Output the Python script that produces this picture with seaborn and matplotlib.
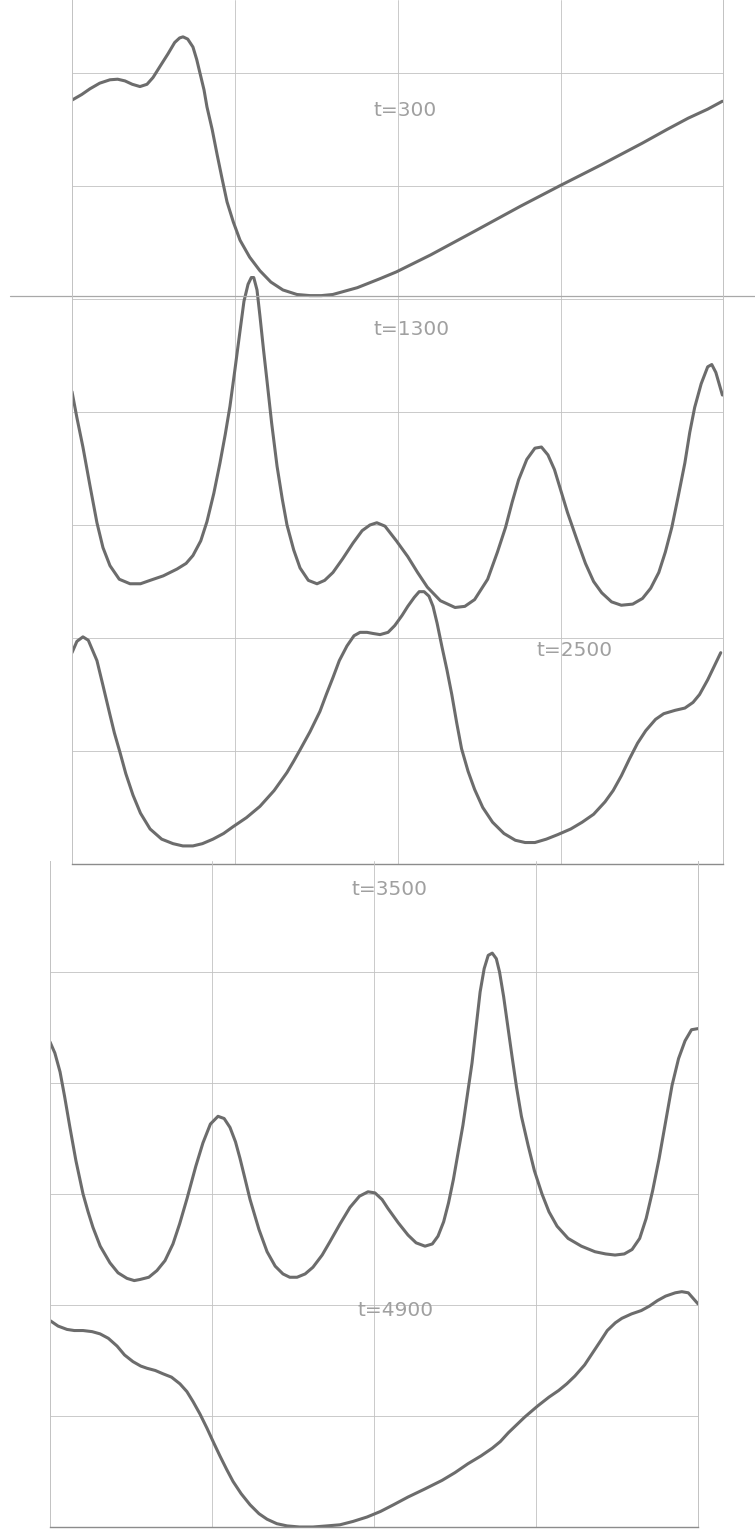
import numpy as np
import matplotlib
matplotlib.use("Agg")
import matplotlib.pyplot as plt
import seaborn as sns

# grid units: x in columns (0..4), y in rows counted from the bottom frame
# upper sheet: t=300, t=1300, t=2500
t300_x = [0.0, 0.06, 0.11, 0.17, 0.233, 0.28, 0.325, 0.37, 0.417, 0.46, 0.497, 0.545, 0.589,
          0.63, 0.66, 0.681, 0.71, 0.742, 0.765, 0.785, 0.81, 0.828, 0.86, 0.890, 0.92, 0.951,
          0.99, 1.031, 1.09, 1.153, 1.22, 1.294, 1.38, 1.46, 1.53, 1.60, 1.75, 1.89, 1.99, 2.2,
          2.47, 2.75, 2.99, 3.25, 3.50, 3.65, 3.78, 3.90, 3.99]
t300_y = [6.76, 6.81, 6.86, 6.91, 6.94, 6.945, 6.93, 6.90, 6.88, 6.90, 6.96, 7.07, 7.17,
          7.27, 7.31, 7.32, 7.30, 7.23, 7.12, 7.0, 6.85, 6.70, 6.50, 6.28, 6.07, 5.86,
          5.68, 5.52, 5.37, 5.25, 5.15, 5.08, 5.04, 5.03, 5.03, 5.04, 5.10, 5.18, 5.24, 5.39,
          5.60, 5.82, 6.0, 6.19, 6.38, 6.50, 6.60, 6.68, 6.75]

t1300_x = [0.0, 0.03, 0.067, 0.11, 0.153, 0.19, 0.233, 0.29, 0.356, 0.42, 0.479, 0.56, 0.644,
           0.70, 0.742, 0.79, 0.828, 0.87, 0.908, 0.94, 0.969, 1.00, 1.031, 1.055, 1.080, 1.10,
           1.115, 1.135, 1.153, 1.175, 1.196, 1.225, 1.258, 1.29, 1.319, 1.36, 1.399, 1.45,
           1.503, 1.55, 1.601, 1.66, 1.724, 1.78, 1.828, 1.87, 1.92, 1.99, 2.06, 2.12, 2.18,
           2.26, 2.35, 2.41, 2.47, 2.55, 2.61, 2.66, 2.70, 2.74, 2.79, 2.84, 2.88, 2.92, 2.96,
           3.00, 3.04, 3.10, 3.15, 3.20, 3.25, 3.31, 3.37, 3.44, 3.50, 3.55, 3.60, 3.64, 3.68,
           3.72, 3.76, 3.79, 3.82, 3.86, 3.90, 3.925, 3.95, 3.99]
t1300_y = [4.18, 3.95, 3.69, 3.35, 3.02, 2.80, 2.64, 2.52, 2.48, 2.48, 2.51, 2.55, 2.61,
           2.66, 2.73, 2.86, 3.03, 3.28, 3.55, 3.80, 4.05, 4.38, 4.72, 4.98, 5.13, 5.19,
           5.19, 5.08, 4.85, 4.55, 4.28, 3.90, 3.52, 3.23, 3.0, 2.78, 2.62, 2.51,
           2.48, 2.51, 2.58, 2.70, 2.84, 2.95, 3.0, 3.02, 2.99, 2.86, 2.72, 2.58, 2.45,
           2.33, 2.27, 2.28, 2.34, 2.52, 2.76, 2.98, 3.20, 3.40, 3.58, 3.68, 3.69, 3.62, 3.49,
           3.30, 3.11, 2.86, 2.66, 2.50, 2.40, 2.32, 2.29, 2.30, 2.35, 2.44, 2.58, 2.76, 2.98,
           3.26, 3.55, 3.82, 4.04, 4.25, 4.40, 4.42, 4.35, 4.15]

t2500_x = [0.0, 0.03, 0.067, 0.10, 0.153, 0.19, 0.233, 0.26, 0.294, 0.33, 0.374, 0.42, 0.479,
           0.55, 0.620, 0.68, 0.742, 0.80, 0.865, 0.93, 0.988, 1.07, 1.153, 1.24, 1.319, 1.36,
           1.399, 1.46, 1.521, 1.56, 1.601, 1.64, 1.687, 1.73, 1.767, 1.81, 1.847, 1.89, 1.939,
           1.98, 2.025, 2.06, 2.10, 2.13, 2.16, 2.19, 2.215, 2.24, 2.27, 2.30, 2.33, 2.36, 2.39,
           2.43, 2.47, 2.52, 2.58, 2.65, 2.72, 2.78, 2.84, 2.91, 2.98, 3.06, 3.13, 3.20, 3.27,
           3.32, 3.37, 3.42, 3.47, 3.52, 3.58, 3.63, 3.70, 3.76, 3.81, 3.85, 3.90, 3.94, 3.98]
t2500_y = [1.87, 1.97, 2.01, 1.98, 1.80, 1.58, 1.32, 1.16, 0.99, 0.80, 0.61, 0.45, 0.31,
           0.22, 0.18, 0.16, 0.16, 0.18, 0.22, 0.27, 0.33, 0.41, 0.51, 0.65, 0.81, 0.91,
           1.01, 1.17, 1.35, 1.50, 1.65, 1.80, 1.93, 2.02, 2.05, 2.05, 2.04, 2.03, 2.05,
           2.11, 2.20, 2.28, 2.36, 2.41, 2.41, 2.37, 2.28, 2.13, 1.92, 1.72, 1.50, 1.25, 1.02,
           0.82, 0.66, 0.50, 0.37, 0.27, 0.21, 0.19, 0.19, 0.22, 0.26, 0.31, 0.37, 0.44, 0.55,
           0.65, 0.78, 0.93, 1.07, 1.18, 1.28, 1.33, 1.36, 1.38, 1.43, 1.50, 1.63, 1.75, 1.87]

# lower sheet: t=3500, t=4900
t3500_x = [0.0, 0.03, 0.062, 0.09, 0.123, 0.16, 0.204, 0.235, 0.265, 0.31, 0.370, 0.42, 0.475,
           0.52, 0.556, 0.61, 0.660, 0.71, 0.759, 0.80, 0.846, 0.90, 0.944, 0.99, 1.037, 1.075,
           1.111, 1.145, 1.173, 1.205, 1.235, 1.29, 1.340, 1.39, 1.438, 1.48, 1.525, 1.575,
           1.623, 1.68, 1.728, 1.79, 1.852, 1.91, 1.963, 2.006, 2.05, 2.086, 2.15, 2.21, 2.26,
           2.315, 2.36, 2.395, 2.43, 2.46, 2.49, 2.52, 2.549, 2.575, 2.605, 2.63, 2.655, 2.68,
           2.705, 2.73, 2.755, 2.775, 2.80, 2.825, 2.852, 2.88, 2.91, 2.951, 2.99, 3.037, 3.08,
           3.13, 3.198, 3.28, 3.364, 3.43, 3.488, 3.545, 3.593, 3.64, 3.68, 3.72, 3.76, 3.80,
           3.84, 3.88, 3.92, 3.96, 4.0]
t3500_y = [4.37, 4.27, 4.10, 3.88, 3.60, 3.30, 3.00, 2.84, 2.70, 2.53, 2.38, 2.29, 2.24,
           2.22, 2.23, 2.25, 2.31, 2.40, 2.55, 2.73, 2.96, 3.25, 3.46, 3.63, 3.70, 3.68,
           3.60, 3.47, 3.32, 3.13, 2.95, 2.68, 2.48, 2.35, 2.28, 2.25, 2.25, 2.28,
           2.34, 2.45, 2.57, 2.73, 2.88, 2.98, 3.02, 3.01, 2.95, 2.87, 2.74, 2.63, 2.56,
           2.53, 2.55, 2.62, 2.75, 2.92, 3.13, 3.38, 3.62, 3.88, 4.18, 4.50, 4.82, 5.03,
           5.15, 5.17, 5.12, 5.00, 4.78, 4.52, 4.24, 3.96, 3.70, 3.44, 3.21, 3.00, 2.84,
           2.71, 2.60, 2.53, 2.48, 2.46, 2.45, 2.46, 2.50, 2.60, 2.78, 3.03, 3.32, 3.65,
           3.98, 4.22, 4.38, 4.48, 4.49]

t4900_x = [0.0, 0.05, 0.105, 0.15, 0.204, 0.26, 0.309, 0.36, 0.414, 0.46, 0.512, 0.56, 0.599,
           0.65, 0.698, 0.75, 0.802, 0.845, 0.883, 0.925, 0.969, 1.01, 1.049, 1.09, 1.130, 1.18,
           1.235, 1.29, 1.340, 1.40, 1.463, 1.54, 1.623, 1.71, 1.790, 1.87, 1.957, 2.04, 2.12,
           2.21, 2.31, 2.42, 2.50, 2.58, 2.66, 2.73, 2.78, 2.83, 2.88, 2.93, 3.01, 3.08, 3.14,
           3.19, 3.24, 3.30, 3.35, 3.40, 3.44, 3.49, 3.53, 3.59, 3.65, 3.70, 3.75, 3.80, 3.86,
           3.90, 3.94, 3.97, 4.0]
t4900_y = [1.86, 1.81, 1.78, 1.77, 1.77, 1.76, 1.74, 1.70, 1.63, 1.55, 1.49, 1.45, 1.43,
           1.41, 1.38, 1.35, 1.29, 1.22, 1.13, 1.02, 0.89, 0.76, 0.64, 0.52, 0.41, 0.30,
           0.20, 0.12, 0.07, 0.03, 0.01, 0.0, 0.0, 0.01, 0.02, 0.05, 0.09, 0.14, 0.20,
           0.27, 0.34, 0.42, 0.49, 0.57, 0.64, 0.71, 0.77, 0.85, 0.92, 0.99, 1.09, 1.17, 1.23,
           1.29, 1.36, 1.46, 1.57, 1.68, 1.77, 1.84, 1.88, 1.92, 1.95, 1.99, 2.04, 2.08, 2.11,
           2.12, 2.11, 2.06, 2.01]

labels_top = ["t=300", "t=1300", "t=2500"]
labels_bottom = ["t=3500", "t=4900"]

sns.set_theme(style="white")
plt.rcParams["font.family"] = ["DejaVu Sans"]

W, H = 755, 1532
fig = plt.figure(figsize=(W / 100, H / 100), dpi=100)
fig.patch.set_facecolor("white")

curve_kw = dict(color="#6c6c6c", linewidth=2.2, sort=False, estimator=None,
                solid_joinstyle="round", solid_capstyle="round")
grid_col = "#c2c2c2"
text_kw = dict(color="#a0a0a0", fontsize=14.5, va="center", ha="left")

# upper sheet
ax1 = fig.add_axes([72 / W, 1 - 864 / H, 651 / W, 864 / H])
for xs, ys in [(t300_x, t300_y), (t1300_x, t1300_y), (t2500_x, t2500_y)]:
    sns.lineplot(x=xs, y=ys, ax=ax1, **curve_kw)
ax1.set_xlim(0, 651 / 163)
ax1.set_ylim(0, 864 / 113)
ax1.set_xticks([1, 2, 3])
ax1.set_yticks(range(1, 8))
ax1.grid(True, color=grid_col, linewidth=0.6)
# seam between the two pasted sheets
ax1.axhline(5.03, xmin=-0.095, xmax=1.05, color="#a8a8a8", linewidth=0.9, clip_on=False)
ax1.text(1.85, 6.67, labels_top[0], **text_kw)
ax1.text(1.85, 4.73, labels_top[1], **text_kw)
ax1.text(2.85, 1.89, labels_top[2], **text_kw)

# lower sheet
ax2 = fig.add_axes([50 / W, 1 - 1527 / H, 648 / W, 666 / H])
for xs, ys in [(t3500_x, t3500_y), (t4900_x, t4900_y)]:
    sns.lineplot(x=xs, y=ys, ax=ax2, **curve_kw)
ax2.set_xlim(0, 4)
ax2.set_ylim(0, 6)
ax2.set_xticks([1, 2, 3])
ax2.set_yticks(range(1, 6))
ax2.grid(True, color=grid_col, linewidth=0.6)
ax2.text(1.86, 5.74, labels_bottom[0], **text_kw)
ax2.text(1.90, 1.95, labels_bottom[1], **text_kw)

for ax in (ax1, ax2):
    ax.set_facecolor("none")
    ax.tick_params(left=False, bottom=False, labelleft=False, labelbottom=False)
    ax.set_xlabel("")
    ax.set_ylabel("")
    ax.spines["top"].set_visible(False)
    for side in ("left", "right"):
        ax.spines[side].set_color(grid_col)
        ax.spines[side].set_linewidth(0.7)
    ax.spines["bottom"].set_color("#8c8c8c")
    ax.spines["bottom"].set_linewidth(1.0)

fig.savefig("out.png", dpi=100)
